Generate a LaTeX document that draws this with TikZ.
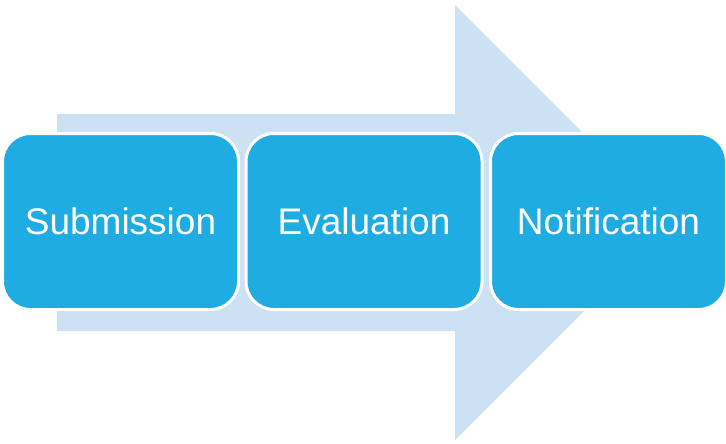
\documentclass[tikz,border=0pt]{standalone}
\usepackage{fontspec}
\setmainfont{Liberation Sans}
\definecolor{arrowblue}{HTML}{CCE2F4}
\definecolor{boxblue}{HTML}{1EACE2}
\begin{document}
\begin{tikzpicture}[x=1pt,y=-1pt,
  stepbox/.style={draw=white, line width=3pt, fill=boxblue, rounded corners=28pt,
    minimum width=236pt, minimum height=176pt, inner sep=0pt, text=white,
    font=\fontsize{37}{40}\selectfont}]
\useasboundingbox (0,0) rectangle (726,444);
\fill[arrowblue] (57,114) -- (455,114) -- (455,5) -- (672.5,222.5) -- (455,440) -- (455,331) -- (57,331) -- cycle;
\node[stepbox] (s1) at (120.5,221.5) {Submission};
\node[stepbox] (s2) at (364,221.5) {Evaluation};
\node[stepbox] (s3) at (608.5,221.5) {Notification};
\end{tikzpicture}
\end{document}
